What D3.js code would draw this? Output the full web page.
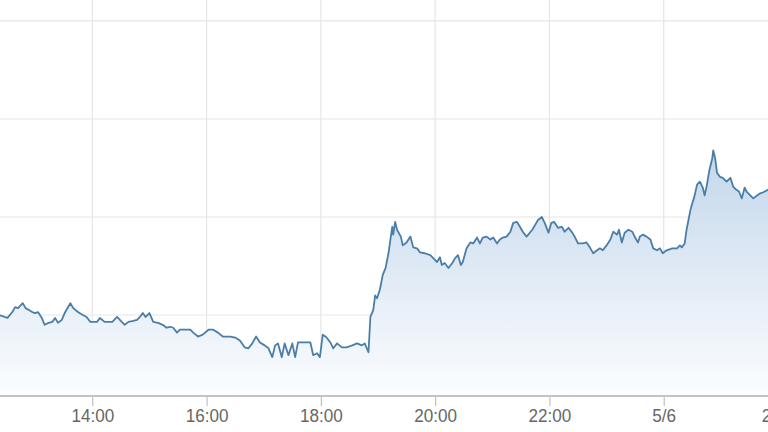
<!DOCTYPE html>
<html>
<head>
<meta charset="utf-8">
<script src="https://cdn.jsdelivr.net/npm/d3@7"></script>
<style>
  html, body { margin: 0; padding: 0; background: #ffffff; }
  svg { display: block; }
</style>
</head>
<body>
<svg id="chart" width="768" height="432"></svg>
<script>
// ---- data ----
const times = [
  "12:22","12:31","12:36","12:39","12:42","12:47","12:50","12:57","13:00","13:03",
  "13:07","13:10","13:14","13:18","13:21","13:24","13:28","13:31","13:37","13:40",
  "13:45","13:50","13:54","13:58","14:05","14:08","14:13","14:21","14:26","14:31",
  "14:34","14:38","14:43","14:47","14:50","14:53","14:56","15:00","15:04","15:09",
  "15:14","15:18","15:22","15:25","15:29","15:32","15:37","15:43","15:46","15:51",
  "15:56","16:02","16:07","16:12","16:17","16:25","16:30","16:35","16:40","16:44",
  "16:48","16:52","16:56","17:01","17:05","17:09","17:12","17:15","17:19","17:22",
  "17:26","17:30","17:33","17:36","17:41","17:49","17:52","17:56","17:59","18:02",
  "18:06","18:10","18:13","18:17","18:22","18:27","18:33","18:38","18:43","18:46",
  "18:50","18:52","18:55","18:57","18:59","19:02","19:05","19:08","19:11","19:13",
  "19:15","19:16","19:18","19:20","19:24","19:26","19:30","19:34","19:37","19:41",
  "19:44","19:49","19:55","19:58","20:02","20:05","20:07","20:10","20:14","20:18",
  "20:21","20:24","20:27","20:29","20:33","20:37","20:40","20:44","20:47","20:50",
  "20:54","20:58","21:01","21:05","21:08","21:11","21:15","21:19","21:22","21:26",
  "21:29","21:32","21:36","21:42","21:45","21:48","21:52","21:55","21:59","22:02",
  "22:05","22:09","22:13","22:16","22:20","22:24","22:27","22:30","22:35","22:39",
  "22:43","22:46","22:50","22:53","22:56","23:00","23:04","23:07","23:11","23:13",
  "23:16","23:19","23:23","23:27","23:30","23:33","23:35","23:38","23:42","23:46",
  "23:49","23:53","23:56","23:59","00:03","00:09","00:14","00:17","00:19","00:22",
  "00:24","00:28","00:30","00:32","00:35","00:38","00:41","00:43","00:45","00:48",
  "00:51","00:52","00:54","00:56","00:59","01:02","01:06","01:10","01:13","01:16",
  "01:19","01:22","01:25","01:27","01:31","01:34","01:38","01:41","01:44","01:50",
  "01:52"
];
const values = [
  100, 97,103,108,107,112,107,103,102,103,
   97, 90, 92, 93, 97, 92, 95,102,112,107,
  103,100, 98, 93, 93, 97, 93, 93, 98, 93,
   90, 93, 94, 95, 98,102, 98,102, 93, 92,
   90, 87, 88, 87, 82, 85, 85, 85, 82, 78,
   80, 85, 85, 82, 78, 78, 77, 74, 67, 66,
   71, 78, 72, 69, 66, 57, 69, 71, 57, 71,
   59, 71, 57, 72, 72, 72, 59, 61, 57, 80,
   77, 72, 66, 71, 67, 67, 69, 71, 69, 71,
   62, 98,105,120,117,126,141,148,163,177,
  190,182,195,187,180,171,174,180,169,168,
  164,163,161,158,154,159,151,153,148,153,
  158,161,151,154,168,174,173,179,173,179,
  180,177,179,173,177,179,180,185,194,195,
  190,185,180,187,192,197,200,194,184,194,
  195,189,190,185,189,184,179,173,173,174,
  168,163,166,168,166,171,177,185,182,187,
  174,184,187,185,179,174,180,182,180,177,
  168,166,168,163,166,168,168,171,169,173,
  187,207,214,220,233,236,230,222,231,248,
  260,268,260,245,241,240,236,240,231,228,
  226,219,230,226,222,219,222,224,225,228,
  228
];
const yTicks = [100, 200, 300, 400];
const startDay = "2019-05-05";
const xDomain = ["2019-05-05 12:00", "2019-05-06 02:00"];

// ---- build series ----
const parseFull = d3.timeParse("%Y-%m-%d %H:%M");
let dayOffset = 0, prevH = -1;
const base = parseFull(startDay + " 00:00");
const data = times.map((t, i) => {
  const [h, m] = t.split(":").map(Number);
  if (h < prevH) dayOffset += 1;
  prevH = h;
  const d = new Date(base.getTime());
  d.setDate(d.getDate() + dayOffset);
  d.setHours(h, m, 0, 0);
  return { t: d, v: values[i] };
});

// ---- layout ----
const W = 768, H = 432;
const plotBottom = 396;
const svg = d3.select("#chart");

const x = d3.scaleTime()
  .domain(xDomain.map(parseFull))
  .range([-22, 778]);
const y = d3.scaleLinear()
  .domain([17.35, 421.4])
  .range([plotBottom, 0]);

// gradient
const defs = svg.append("defs");
const grad = defs.append("linearGradient")
  .attr("id", "areaGrad")
  .attr("gradientUnits", "userSpaceOnUse")
  .attr("x1", 0).attr("x2", 0)
  .attr("y1", 150).attr("y2", plotBottom);
grad.append("stop").attr("offset", "0%").attr("stop-color", "#c3d7eb");
grad.append("stop").attr("offset", "55%").attr("stop-color", "#e3ecf6");
grad.append("stop").attr("offset", "100%").attr("stop-color", "#fbfdff");

// grid lines
const xTicks = d3.timeHour.every(2).range(x.domain()[0], d3.timeMinute.offset(x.domain()[1], 1));
svg.append("g").selectAll("line.h")
  .data(yTicks).join("line")
  .attr("x1", 0).attr("x2", W)
  .attr("y1", d => y(d)).attr("y2", d => y(d))
  .attr("stroke", "#e6e6e6").attr("stroke-width", 1.2);
svg.append("g").selectAll("line.v")
  .data(xTicks).join("line")
  .attr("x1", d => x(d)).attr("x2", d => x(d))
  .attr("y1", 0).attr("y2", plotBottom)
  .attr("stroke", "#e6e6e6").attr("stroke-width", 1.2);

// area + line
const area = d3.area()
  .x(d => x(d.t)).y0(plotBottom).y1(d => y(d.v));
const line = d3.line()
  .x(d => x(d.t)).y(d => y(d.v));
svg.append("path").datum(data)
  .attr("d", area).attr("fill", "url(#areaGrad)");
svg.append("path").datum(data)
  .attr("d", line).attr("fill", "none")
  .attr("stroke", "#4a7ea8").attr("stroke-width", 1.8)
  .attr("stroke-linejoin", "round");

// x axis
const fmtDay = d3.timeFormat("%-m/%-d");
const fmtHour = d3.timeFormat("%-H:%M");
const xAxis = d3.axisBottom(x)
  .tickValues(xTicks)
  .tickSize(10)
  .tickPadding(3)
  .tickFormat(d => (d.getHours() === 0 ? fmtDay(d) : fmtHour(d)));
const gx = svg.append("g")
  .attr("transform", `translate(0,${plotBottom})`)
  .call(xAxis);
gx.select(".domain").remove();
gx.selectAll(".tick line").attr("stroke", "#c0c0c0").attr("stroke-width", 1.2);
gx.selectAll(".tick text")
  .attr("fill", "#666666")
  .attr("transform", "scale(0.9,1)")
  .style("font-family", "'Liberation Sans', Arial, sans-serif")
  .style("font-size", "19px");
svg.append("line")
  .attr("x1", 0).attr("x2", W)
  .attr("y1", plotBottom).attr("y2", plotBottom)
  .attr("stroke", "#c4c4c4").attr("stroke-width", 2);
</script>
</body>
</html>
